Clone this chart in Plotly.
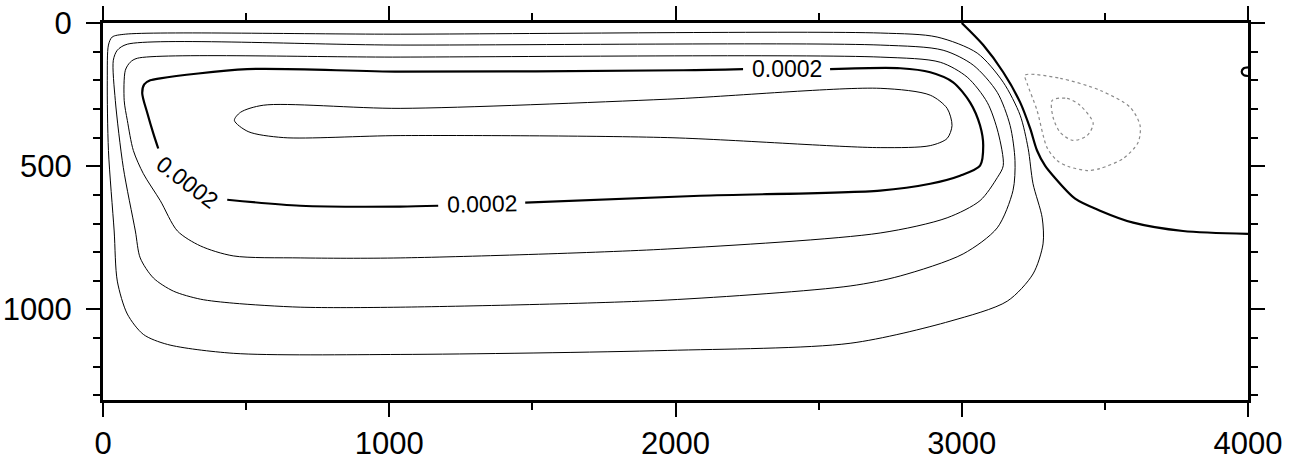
import plotly.graph_objects as go

# ---- contour paths (x in data units, depth in data units) ----
# outermost positive contour
A_x = [2715, 2914, 3054, 3145, 3204, 3232, 3249, 3281, 3284, 3249, 3159, 2959, 2610, 1971, 1038, 455, 225, 141, 85, 50, 39, 19, 15, 19, 32, 78, 1038, 2715]
A_y = [35, 49, 105, 207, 322, 438, 561, 680, 771, 876, 971, 1041, 1118, 1143, 1157, 1153, 1122, 1087, 1016, 901, 726, 445, 200, 77, 49, 39, 39, 35]
# second positive contour
B_x = [2715, 2935, 3040, 3124, 3169, 3186, 3179, 3124, 3005, 2785, 2610, 1971, 1038, 689, 455, 340, 246, 176, 130, 113, 71, 43, 36, 50, 85, 1038, 2715]
B_y = [77, 95, 147, 242, 358, 480, 585, 715, 806, 883, 918, 967, 992, 992, 978, 964, 936, 890, 820, 726, 505, 270, 130, 95, 74, 77, 77]
# third positive contour
C_x = [2715, 2925, 3019, 3089, 3127, 3145, 3124, 3064, 2949, 2715, 1971, 1038, 689, 455, 340, 260, 200, 141, 106, 85, 74, 78, 95, 120, 1038, 2715]
C_y = [119, 137, 189, 277, 382, 498, 540, 620, 680, 733, 789, 820, 820, 813, 778, 726, 620, 526, 445, 340, 270, 165, 137, 123, 119, 119]
# labelled 0.0002 contour (split where the labels sit)
T1_x = [193, 176, 155, 137, 144, 165, 200, 504, 1038, 2027, 2236]
T1_y = [438, 386, 315, 245, 214, 200, 193, 161, 170, 165, 161]
T2_x = [2540, 2785, 2890, 2970, 3029, 3064, 3075, 3064, 2994, 2890, 2715, 2086, 1475]
T2_y = [161, 158, 172, 207, 277, 358, 428, 498, 533, 561, 585, 603, 627]
T3_x = [1171, 1038, 689, 434]
T3_y = [638, 641, 638, 617]
# innermost positive contour
I_x = [459, 480, 560, 1038, 1971, 2715, 2890, 2949, 2966, 2949, 2890, 2715, 1971, 1038, 630, 507, 459]
I_y = [340, 312, 287, 298, 266, 228, 252, 298, 358, 403, 428, 435, 400, 393, 400, 379, 340]
# zero contour
Z_x = [3000, 3075, 3145, 3204, 3239, 3263, 3291, 3319, 3396, 3483, 3599, 3773, 4000]
Z_y = [0, 77, 172, 277, 368, 445, 498, 533, 613, 655, 697, 726, 736]
# small zero loop at the right wall
S_x = [4000, 3985, 3978, 3985, 4000]
S_y = [155, 158, 170, 182, 185]
# negative contours (dotted)
N1_x = [3221, 3344, 3483, 3588, 3623, 3616, 3564, 3483, 3438, 3372, 3333, 3298, 3263, 3228, 3221]
N1_y = [182, 193, 235, 294, 358, 417, 473, 508, 515, 501, 480, 435, 305, 210, 182]
N2_x = [3316, 3368, 3413, 3459, 3438, 3389, 3344, 3319, 3316]
N2_y = [270, 263, 287, 350, 393, 410, 382, 329, 270]

# contour labels
LBL_text = ["0.0002", "0.0002", "0.0002"]
LBL_x = [2388, 1323, 293]
LBL_y = [161, 633, 556]
LBL_ang = [0, -1, 37]

X_TICKS = [0, 1000, 2000, 3000, 4000]
Y_TICKS = [0, 500, 1000]

fig = go.Figure()

def add_line(x, y, width, color="black", dash="solid"):
    fig.add_trace(go.Scatter(
        x=x, y=y, mode="lines",
        line=dict(color=color, width=width, dash=dash, shape="spline", smoothing=0.8),
        hoverinfo="skip", showlegend=False))

add_line(A_x, A_y, 1)
add_line(B_x, B_y, 1)
add_line(C_x, C_y, 1)
add_line(I_x, I_y, 1)
add_line(T1_x, T1_y, 2.2)
add_line(T2_x, T2_y, 2.2)
add_line(T3_x, T3_y, 2.2)
add_line(Z_x, Z_y, 2.2)
add_line(S_x, S_y, 2.2)
add_line(N1_x, N1_y, 1.2, color="#8a8a8a", dash="dot")
add_line(N2_x, N2_y, 1.2, color="#8a8a8a", dash="dot")

for t, x, y, a in zip(LBL_text, LBL_x, LBL_y, LBL_ang):
    fig.add_annotation(x=x, y=y, text=t, showarrow=False, textangle=a,
                       font=dict(family="Liberation Sans, Arial, sans-serif", size=23, color="black"),
                       xanchor="center", yanchor="middle")

axis_common = dict(
    showline=True, linewidth=3, linecolor="black", mirror="ticks",
    ticks="outside", ticklen=14, tickwidth=2, tickcolor="black",
    showgrid=False, zeroline=False, automargin=False,
    ticklabeloverflow="allow",
    tickfont=dict(family="Liberation Sans, Arial, sans-serif", size=31, color="black"),
)

fig.update_xaxes(range=[0, 4000], tickvals=X_TICKS, ticktext=[str(v) for v in X_TICKS],
                 minor=dict(ticks="outside", dtick=500, ticklen=7, tickwidth=1.5, tickcolor="black"),
                 ticklabelstandoff=0, **axis_common)
fig.update_yaxes(range=[1316, 0], tickvals=Y_TICKS, ticktext=[str(v) for v in Y_TICKS],
                 minor=dict(ticks="outside", dtick=100, ticklen=7, tickwidth=1.5, tickcolor="black"),
                 ticklabelstandoff=8, **axis_common)

fig.update_layout(
    width=1295, height=462,
    margin=dict(l=103, r=47, t=23, b=62),
    plot_bgcolor="white", paper_bgcolor="white",
    showlegend=False,
)

# remove the default page margin so the figure fills the 1295x462 window exactly
fig.write_html("out.html", config={"displayModeBar": False},
               post_script="document.body.style.margin='0px';")
